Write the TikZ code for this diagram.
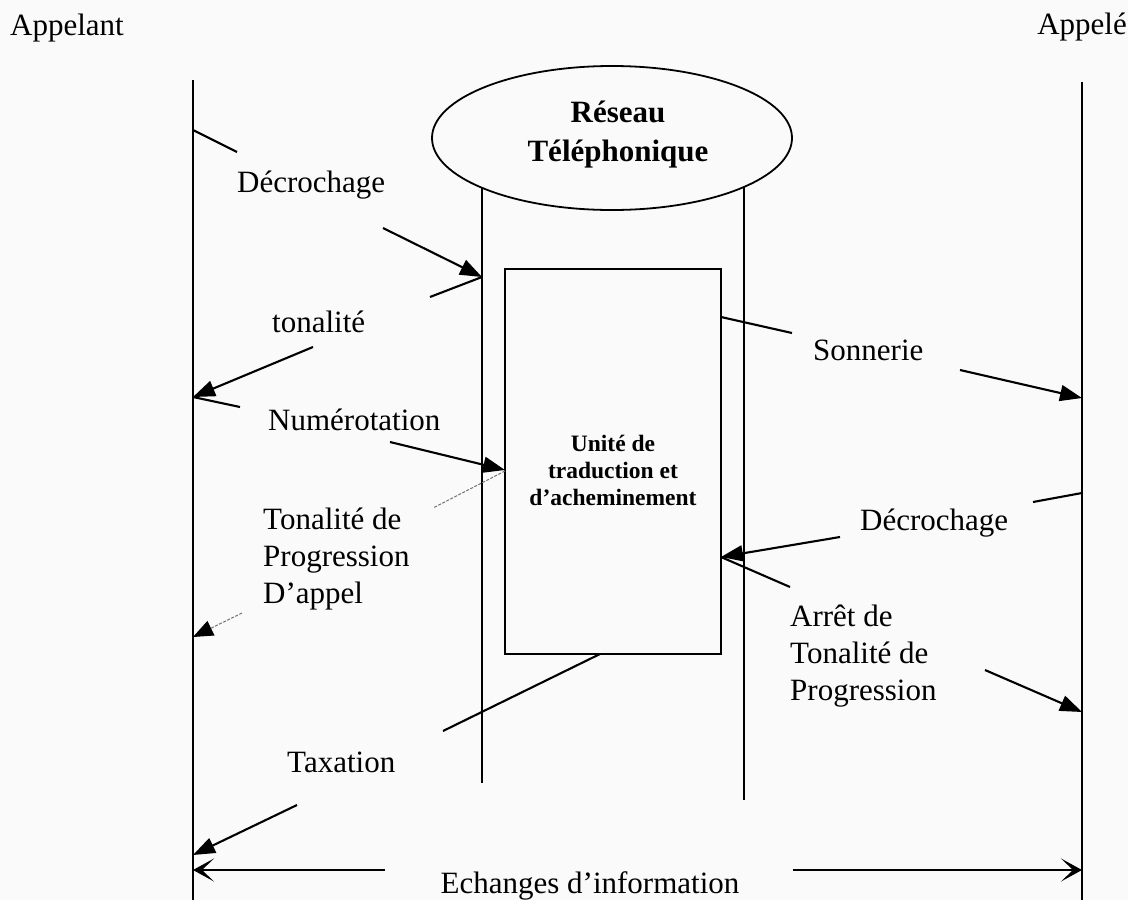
\documentclass[tikz,border=0pt]{standalone}
\usepackage{fontspec}
\setmainfont{Liberation Serif}
\usetikzlibrary{arrows.meta,shapes.geometric}
\definecolor{paper}{RGB}{250,250,250}

\begin{document}
\begin{tikzpicture}[x=1pt,y=-1pt,
  % text nodes are placed by the baseline of their last line
  lbl/.style={inner sep=0pt, anchor=base west, align=left,
              font=\fontsize{31}{37}\selectfont},
  lifeline/.style={line width=1.6pt},
  wire/.style={line width=2.1pt},
  msg/.style={line width=2.1pt, -{Triangle[length=22pt,width=16pt]}},
  hint/.style={draw=black!55, line width=1pt, dash pattern=on 3pt off 1.5pt},
  hintmsg/.style={hint, -{Triangle[length=20pt,width=16pt,black]}},
  xchg/.style={line width=2.1pt, -{Stealth[length=21pt,width=23pt,inset=12pt]}},
]
% page
\fill[paper] (0,0) rectangle (1128,900);
\useasboundingbox (0,0) rectangle (1128,900);

% the two parties and their lifelines
\node[lbl] (appelant) at (10,35) {Appelant};
\node[lbl, anchor=base east] (appele) at (1127,34) {Appelé};
\coordinate (Ltop) at (193,80);  \coordinate (Lbot) at (193,900);
\coordinate (Rtop) at (1082,82); \coordinate (Rbot) at (1082,900);
\draw[lifeline] (Ltop) -- (Lbot);
\draw[lifeline] (Rtop) -- (Rbot);

% telephone network: two walls under the ellipse
\coordinate (NLtop) at (482,170); \coordinate (NLbot) at (482,783);
\coordinate (NRtop) at (744,170); \coordinate (NRbot) at (744,800);
\draw[lifeline] (NLtop) -- (NLbot);
\draw[lifeline] (NRtop) -- (NRbot);
\node[draw, fill=paper, ellipse, line width=1.8pt, inner sep=0pt,
      minimum width=360pt, minimum height=144pt] (reseau) at (612,138) {};
\node[inner sep=0pt, align=center, font=\bfseries\fontsize{31}{39}\selectfont]
      (reseautxt) at (618,135) {Réseau\\Téléphonique};

% translation and routing unit
\node[draw, line width=1.6pt, inner sep=0pt,
      minimum width=216pt, minimum height=385pt] (unite) at (613,461.5) {};
\node[inner sep=0pt, align=center, font=\bfseries\fontsize{23.5}{27}\selectfont]
      (unitetxt) at (613,470.5) {Unité de\\traduction et\\d’acheminement};

% 1 - Décrochage (appelant -> réseau)
\coordinate (m1a) at (193,130); \coordinate (m1b) at (237,152);
\node[lbl] (decro1) at (237,192) {Décrochage};
\coordinate (m1c) at (383,228); \coordinate (m1d) at (482,277);
\draw[wire] (m1a) -- (m1b);
\draw[msg] (m1c) -- (m1d);

% 2 - tonalité (réseau -> appelant)
\coordinate (m2a) at (482,277); \coordinate (m2b) at (430,297);
\node[lbl] (tonal) at (272,332) {tonalité};
\coordinate (m2c) at (313,347); \coordinate (m2d) at (193,397);
\draw[wire] (m2a) -- (m2b);
\draw[msg] (m2c) -- (m2d);

% 3 - Numérotation (appelant -> unité)
\coordinate (m3a) at (193,397); \coordinate (m3b) at (240,407);
\node[lbl] (numer) at (268,430) {Numérotation};
\coordinate (m3c) at (390,442); \coordinate (m3d) at (505,470);
\draw[wire] (m3a) -- (m3b);
\draw[msg] (m3c) -- (m3d);

% 4 - Tonalité de progression d'appel (unité -> appelant)
\coordinate (m4a) at (505,471); \coordinate (m4b) at (433,508);
\node[lbl] (progapp) at (263,603) {Tonalité de\\Progression\\D’appel};
\coordinate (m4c) at (242,613); \coordinate (m4d) at (193,637);
\draw[hint] (m4a) -- (m4b);
\draw[hintmsg] (m4c) -- (m4d);

% 5 - Sonnerie (unité -> appelé)
\coordinate (m5a) at (721,317); \coordinate (m5b) at (792,333);
\node[lbl] (sonn) at (813,360) {Sonnerie};
\coordinate (m5c) at (960,370); \coordinate (m5d) at (1082,398);
\draw[wire] (m5a) -- (m5b);
\draw[msg] (m5c) -- (m5d);

% 6 - Décrochage (appelé -> unité)
\coordinate (m6a) at (1082,493); \coordinate (m6b) at (1033,502);
\node[lbl] (decro2) at (860,530) {Décrochage};
\coordinate (m6c) at (840,537); \coordinate (m6d) at (721,557);
\draw[wire] (m6a) -- (m6b);
\draw[msg] (m6c) -- (m6d);

% 7 - Arrêt de tonalité de progression (unité -> appelé)
\coordinate (m7a) at (721,557); \coordinate (m7b) at (790,587);
\node[lbl] (arret) at (790,700) {Arrêt de\\Tonalité de\\Progression};
\coordinate (m7c) at (985,670); \coordinate (m7d) at (1082,712);
\draw[wire] (m7a) -- (m7b);
\draw[msg] (m7c) -- (m7d);

% 8 - Taxation (unité -> appelant)
\coordinate (m8a) at (600,654); \coordinate (m8b) at (443,731);
\node[lbl] (tax) at (287,772) {Taxation};
\coordinate (m8c) at (297,805); \coordinate (m8d) at (193,855);
\draw[wire] (m8a) -- (m8b);
\draw[msg] (m8c) -- (m8d);

% 9 - Echanges d'information (both ways)
\coordinate (m9a) at (385,870); \coordinate (m9b) at (193,870);
\node[lbl, anchor=base] (echg) at (590,893) {Echanges d’information};
\coordinate (m9c) at (793,870); \coordinate (m9d) at (1082,870);
\draw[xchg] (m9a) -- (m9b);
\draw[xchg] (m9c) -- (m9d);
\end{tikzpicture}
\end{document}
